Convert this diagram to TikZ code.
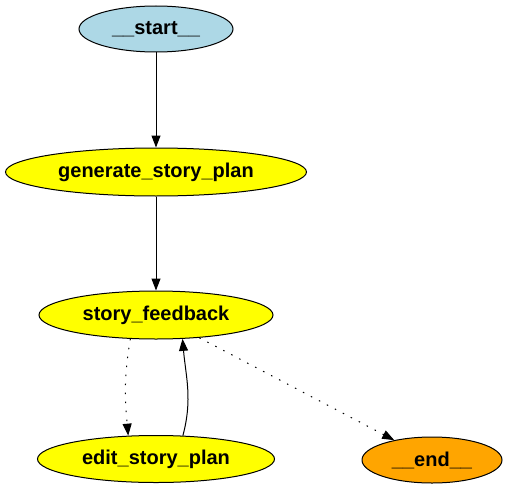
\documentclass[tikz,border=0pt]{standalone}
\usepackage{fontspec}
\setmainfont{Liberation Sans}
\usepackage{xcolor}
\usepackage{tikz}
\usetikzlibrary{arrows.meta,shapes.geometric,calc}
\definecolor{startblue}{RGB}{173,216,230}
\definecolor{stepyellow}{RGB}{255,255,0}
\definecolor{endorange}{RGB}{255,165,0}

\begin{document}
\begin{tikzpicture}[x=1pt,y=1pt,
  font=\fontsize{20}{24}\selectfont\bfseries,
  state/.style={ellipse,draw=black,line width=1pt,inner sep=0pt},
  edge/.style={line width=1pt,-{Triangle[length=12pt,width=9pt]}},
  cond/.style={edge,dash pattern=on 1.5pt off 7.5pt}]
  \useasboundingbox (0,0) rectangle (508,491);
  % --- nodes (graph states) ---
  \node[state,fill=startblue,minimum width=154pt,minimum height=46pt]
        (start) at (156,462) {\_\_start\_\_};
  \node[state,fill=stepyellow,minimum width=301pt,minimum height=48pt]
        (plan) at (156,319) {generate\_story\_plan};
  \node[state,fill=stepyellow,minimum width=234pt,minimum height=48pt]
        (feedback) at (156,176) {story\_feedback};
  \node[state,fill=stepyellow,minimum width=237pt,minimum height=47pt]
        (edit) at (156,32) {edit\_story\_plan};
  \node[state,fill=endorange,minimum width=140pt,minimum height=46pt]
        (end) at (432,31) {\_\_end\_\_};
  % --- edges ---
  \draw[edge] (start) -- (plan);
  \draw[edge] (plan) -- (feedback);
  % conditional edges (dotted)
  \draw[cond] (feedback.223) to[out=-100,in=95] (edit.140);
  \draw[cond] (feedback) -- (end);
  % loop back
  \draw[edge] (edit.41) to[out=75,in=-85] (feedback.318);
\end{tikzpicture}
\end{document}
